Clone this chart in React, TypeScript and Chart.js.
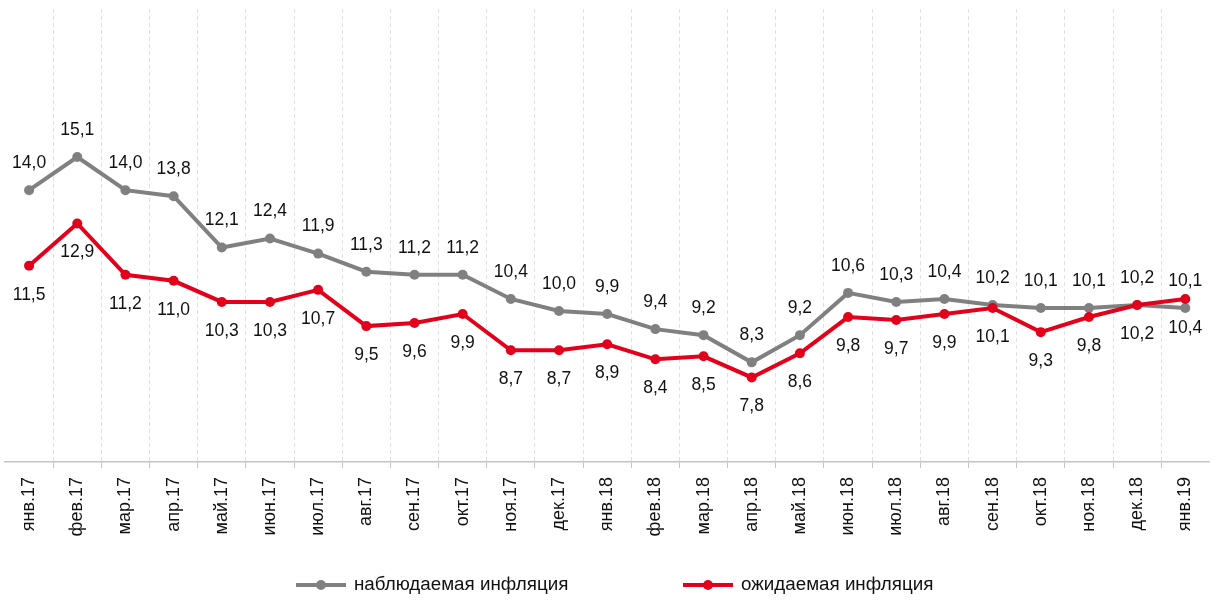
import React, { useEffect, useRef } from "react";
import { Chart, registerables } from "chart.js";

Chart.register(...registerables);

const categories = [
  "янв.17", "фев.17", "мар.17", "апр.17", "май.17", "июн.17", "июл.17", "авг.17",
  "сен.17", "окт.17", "ноя.17", "дек.17", "янв.18", "фев.18", "мар.18", "апр.18",
  "май.18", "июн.18", "июл.18", "авг.18", "сен.18", "окт.18", "ноя.18", "дек.18", "янв.19",
];

const observedInflation = [
  14.0, 15.1, 14.0, 13.8, 12.1, 12.4, 11.9, 11.3, 11.2, 11.2, 10.4, 10.0, 9.9,
  9.4, 9.2, 8.3, 9.2, 10.6, 10.3, 10.4, 10.2, 10.1, 10.1, 10.2, 10.1,
];

const expectedInflation = [
  11.5, 12.9, 11.2, 11.0, 10.3, 10.3, 10.7, 9.5, 9.6, 9.9, 8.7, 8.7, 8.9,
  8.4, 8.5, 7.8, 8.6, 9.8, 9.7, 9.9, 10.1, 9.3, 9.8, 10.2, 10.4,
];

const seriesNames = ["наблюдаемая инфляция", "ожидаемая инфляция"];

const GRAY = "#808080";
const RED = "#e2001a";
const FONT = "'Liberation Sans', Arial, sans-serif";

const fmt = (v: number) => v.toFixed(1).replace(".", ",");

const dataLabelPlugin = {
  id: "dataLabels",
  afterDatasetsDraw(chart: any) {
    const ctx = chart.ctx;
    ctx.save();
    ctx.font = `17.5px ${FONT}`;
    ctx.fillStyle = "#111";
    ctx.textAlign = "center";
    ctx.textBaseline = "middle";
    chart.data.datasets.forEach((ds: any, di: number) => {
      const meta = chart.getDatasetMeta(di);
      const off = ds.labelOffset as number;
      meta.data.forEach((pt: any, i: number) => {
        ctx.fillText(fmt(ds.data[i]), pt.x, pt.y + off);
      });
    });
    ctx.restore();
  },
};

const legendPlugin = {
  id: "customLegend",
  afterDraw(chart: any) {
    const ctx = chart.ctx;
    const y = 585;
    const items = [
      { x: 296, color: GRAY, text: seriesNames[0] },
      { x: 683, color: RED, text: seriesNames[1] },
    ];
    ctx.save();
    items.forEach((it) => {
      ctx.strokeStyle = it.color;
      ctx.lineWidth = 4;
      ctx.beginPath();
      ctx.moveTo(it.x, y);
      ctx.lineTo(it.x + 50, y);
      ctx.stroke();
      ctx.fillStyle = it.color;
      ctx.beginPath();
      ctx.arc(it.x + 25, y, 5, 0, Math.PI * 2);
      ctx.fill();
      ctx.fillStyle = "#111";
      ctx.font = `18.8px ${FONT}`;
      ctx.textAlign = "left";
      ctx.textBaseline = "middle";
      ctx.fillText(it.text, it.x + 58, y);
    });
    ctx.restore();
  },
};

export default function App() {
  const ref = useRef<HTMLCanvasElement | null>(null);

  useEffect(() => {
    if (!ref.current) return;
    const isEdge = (c: any) => c.type !== "tick" || c.index === 0;
    const chart = new Chart(ref.current, {
      type: "line",
      data: {
        labels: categories,
        datasets: [
          {
            label: seriesNames[0],
            data: observedInflation,
            borderColor: GRAY,
            backgroundColor: GRAY,
            borderWidth: 4,
            pointRadius: 5,
            pointBorderWidth: 0,
            pointBackgroundColor: GRAY,
            tension: 0,
            order: 1,
            labelOffset: -27,
          } as any,
          {
            label: seriesNames[1],
            data: expectedInflation,
            borderColor: RED,
            backgroundColor: RED,
            borderWidth: 4,
            pointRadius: 5,
            pointBorderWidth: 0,
            pointBackgroundColor: RED,
            tension: 0,
            order: 0,
            labelOffset: 29,
          } as any,
        ],
      },
      options: {
        animation: false,
        responsive: false,
        maintainAspectRatio: false,
        layout: { padding: { left: 5, right: 2, top: 9, bottom: 50 } },
        plugins: {
          legend: { display: false },
          tooltip: { enabled: false },
        },
        scales: {
          x: {
            type: "category",
            offset: true,
            afterFit: (scale: any) => {
              scale.height = 89;
            },
            grid: {
              offset: true,
              color: (c: any) => (isEdge(c) ? "rgba(0,0,0,0)" : "#e0e0e0"),
              tickColor: (c: any) => (isEdge(c) ? "rgba(0,0,0,0)" : "#c4c4c4"),
              lineWidth: 1,
              tickLength: 6,
              drawTicks: true,
            },
            border: { display: true, color: "#c4c4c4", width: 1.5, dash: [4, 3] },
            ticks: {
              autoSkip: false,
              maxRotation: 90,
              minRotation: 90,
              padding: 9,
              color: "#111",
              font: { family: FONT, size: 18 },
            },
          },
          y: {
            display: false,
            min: 5,
            max: 20,
          },
        },
      },
      plugins: [dataLabelPlugin, legendPlugin],
    });
    return () => chart.destroy();
  }, []);

  return (
    <div style={{ position: "fixed", left: 0, top: 0, width: 1216, height: 601, background: "#fff" }}>
      <canvas ref={ref} width={1216} height={601} style={{ width: 1216, height: 601 }} />
    </div>
  );
}
